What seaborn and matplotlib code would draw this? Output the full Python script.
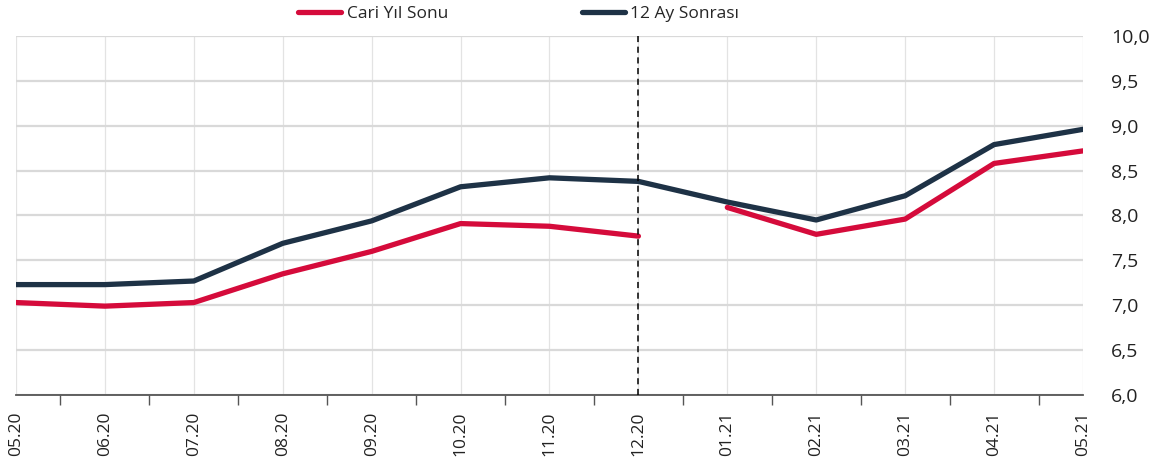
import numpy as np
import pandas as pd
import matplotlib
matplotlib.use("Agg")
import matplotlib.pyplot as plt
import seaborn as sns
from matplotlib.ticker import FixedLocator, MultipleLocator, FuncFormatter

sns.set_theme(style="white")
plt.rcParams["font.family"] = ["Open Sans", "DejaVu Sans"]

MONTHS = ["05.20", "06.20", "07.20", "08.20", "09.20", "10.20", "11.20",
          "12.20", "01.21", "02.21", "03.21", "04.21", "05.21"]
CARI_YIL = [7.03, 6.99, 7.03, 7.35, 7.60, 7.91, 7.88, 7.77,
            8.09, 7.79, 7.96, 8.58, 8.72]
AY12 = [7.23, 7.23, 7.27, 7.69, 7.94, 8.32, 8.42, 8.38,
        8.15, 7.95, 8.22, 8.79, 8.96]

RED = "#d50b3b"
NAVY = "#1e3246"

df = pd.DataFrame({"pos": np.arange(len(MONTHS)), "month": MONTHS,
                   "cari": CARI_YIL, "ay12": AY12})
# the "current year end" series restarts in the new year
df["year"] = df["month"].str[-2:]

fig = plt.figure(figsize=(11.59, 4.70), dpi=100)
ax = fig.add_axes([0.0138, 0.1596, 0.9206, 0.7638])

sns.lineplot(data=df, x="pos", y="ay12", color=NAVY, lw=3.8,
             label="12 Ay Sonrası", ax=ax, zorder=3)
first = True
for yr, g in df.groupby("year"):
    sns.lineplot(data=g, x="pos", y="cari", color=RED, lw=3.8,
                 label="Cari Yıl Sonu" if first else None, ax=ax, zorder=3)
    first = False

ax.axvline(MONTHS.index("12.20"), color="black", lw=1.1, ls=(0, (4, 3)), zorder=4)

ax.set_xlim(0, len(MONTHS) - 1)
ax.set_ylim(6, 10)
ax.yaxis.set_major_locator(MultipleLocator(0.5))
ax.yaxis.set_major_formatter(FuncFormatter(lambda v, p: f"{v:.1f}".replace(".", ",")))
ax.yaxis.tick_right()
ax.tick_params(axis="y", length=0, labelsize=14, pad=20, colors="#222222")

ax.set_xticks(df["pos"])
ax.set_xticklabels(MONTHS, rotation=90, fontsize=12.5, color="#222222")
ax.xaxis.set_minor_locator(FixedLocator(df["pos"][:-1] + 0.5))
ax.tick_params(axis="x", which="major", bottom=True, length=0, pad=12)
ax.tick_params(axis="x", which="minor", bottom=True, length=7, width=1,
               color="#555555", direction="out")

ax.grid(axis="y", color="#d9d9d9", lw=1.6)
ax.grid(axis="x", color="#e3e3e3", lw=0.9)
ax.set_axisbelow(True)
for s in ["top", "right", "left"]:
    ax.spines[s].set_visible(False)
ax.spines["bottom"].set_color("#555555")
ax.spines["bottom"].set_linewidth(1.3)
ax.set_xlabel("")
ax.set_ylabel("")

h, l = ax.get_legend_handles_labels()
order = [l.index("Cari Yıl Sonu"), l.index("12 Ay Sonrası")]
ax.legend([h[i] for i in order], [l[i] for i in order], loc="upper center",
          bbox_to_anchor=(0.4475, 1.02), bbox_transform=fig.transFigure, ncol=2,
          frameon=False, fontsize=12.5, columnspacing=7.7, handlelength=2.5,
          handletextpad=0.3)

fig.savefig("out.png", dpi=100)
